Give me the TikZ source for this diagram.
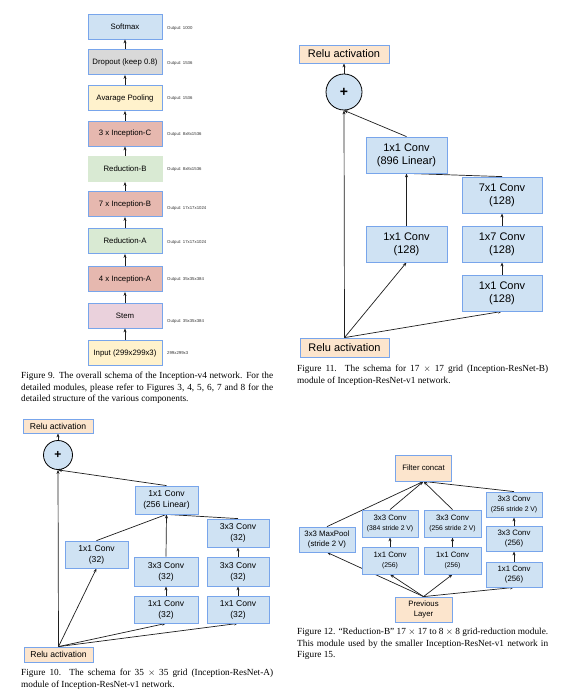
\documentclass[tikz,border=0pt]{standalone}
\usepackage{fontspec}
\setmainfont{Liberation Sans}
\newfontfamily\capfont[Ligatures=TeX]{Liberation Serif}
\usetikzlibrary{arrows.meta,backgrounds}
\definecolor{bblue}{RGB}{120,165,235}
\definecolor{fblue}{RGB}{207,226,243}
\definecolor{fgray}{RGB}{217,217,217}
\definecolor{fyel}{RGB}{255,242,204}
\definecolor{fred}{RGB}{230,184,175}
\definecolor{fgreen}{RGB}{217,234,211}
\definecolor{fpink}{RGB}{234,209,220}
\definecolor{forange}{RGB}{252,229,205}
\definecolor{lcol}{RGB}{30,30,30}
\tikzset{
  nbox/.style={draw=bblue, line width=0.8pt, inner sep=0pt, align=center, text=black},
  f9/.style={nbox, minimum width=74pt, minimum height=25pt, font=\fontsize{7.8}{9}\selectfont},
  outlab/.style={anchor=west, inner sep=0pt, font=\fontsize{4.3}{5}\selectfont, text=black!80},
  b11/.style={nbox, fill=fblue, minimum width=81pt, minimum height=36pt, font=\fontsize{11}{13}\selectfont},
  b10/.style={nbox, fill=fblue, minimum width=63pt, minimum height=28pt, font=\fontsize{8.6}{11}\selectfont},
  b12/.style={nbox, fill=fblue, minimum width=56pt, minimum height=26pt, font=\fontsize{7.8}{9.2}\selectfont},
  plusc/.style={circle, draw=black, line width=0.8pt, fill=fblue, inner sep=0pt, font=\bfseries},
  conn/.style={draw=lcol, line width=0.7pt},
  arr/.style={conn, -{Stealth[length=4pt,width=3pt]}},
  caption/.style={anchor=north west, inner sep=0pt, align=left, font=\capfont\fontsize{9.3}{11.6}\selectfont},
}
\newcommand{\sm}[1]{{\fontsize{6.8}{8}\selectfont #1}}
\begin{document}
\begin{tikzpicture}[x=1pt,y=-1pt]
\begin{pgfonlayer}{background}
\fill[white] (0,0) rectangle (565,700);
\end{pgfonlayer}
\useasboundingbox (0,0) rectangle (565,700);

% ---------------- Figure 9 ----------------
\node[f9, fill=fblue] (sm) at (125,26.5) {Softmax};
\node[f9, fill=fgray] (dr) at (125,62) {Dropout (keep 0.8)};
\node[f9, fill=fyel] (ap) at (125,98) {Avarage Pooling};
\node[f9, fill=fred] (ic) at (125,133.5) {3 x Inception-C};
\node[f9, fill=fgreen, draw=fgreen] (rb) at (125,169) {Reduction-B};
\node[f9, fill=fred] (ib) at (125,204) {7 x Inception-B};
\node[f9, fill=fgreen] (ra) at (125,241) {Reduction-A};
\node[f9, fill=fred] (ia) at (125,279) {4 x Inception-A};
\node[f9, fill=fpink] (st) at (125,315.5) {Stem};
\node[f9, fill=fyel] (in) at (125,353) {Input (299x299x3)};
\foreach \a/\b in {in/st, st/ia, ia/ra, ra/ib, ib/rb, rb/ic, ic/ap, ap/dr, dr/sm}
  \draw[arr] (\a) -- (\b);
\node[outlab] (o1) at (167,28) {Output: 1000};
\node[outlab] (o2) at (167,63) {Output: 1536};
\node[outlab] (o3) at (167,98) {Output: 1536};
\node[outlab] (o4) at (167,134) {Output: 8x8x1536};
\node[outlab] (o5) at (167,169) {Output: 8x8x1536};
\node[outlab] (o6) at (167,208) {Output: 17x17x1024};
\node[outlab] (o7) at (167,242) {Output: 17x17x1024};
\node[outlab] (o8) at (167,279) {Output: 35x35x384};
\node[outlab] (o9) at (167,321) {Output: 35x35x384};
\node[outlab] (o10) at (167,353) {299x299x3};
\node[caption] (cap9) at (21,372) {%
\makebox[252pt][s]{Figure 9. The overall schema of the Inception-v4 network. For the}\\
\makebox[252pt][s]{detailed modules, please refer to Figures 3, 4, 5, 6, 7 and 8 for the}\\
detailed structure of the various components.};

% ---------------- Figure 11 ----------------
\node[b11, fill=forange, minimum width=90pt, minimum height=18pt] (r11t) at (344,54) {Relu activation};
\node[plusc, minimum size=36pt, font=\bfseries\fontsize{14}{14}\selectfont] (p11) at (344,92) {+};
\node[b11] (c896) at (406.5,155) {1x1 Conv\\(896 Linear)};
\node[b11, minimum width=80pt] (c71) at (502,195) {7x1 Conv\\(128)};
\node[b11] (c11a) at (406.5,244) {1x1 Conv\\(128)};
\node[b11, minimum width=80pt] (c17) at (502,244) {1x7 Conv\\(128)};
\node[b11, minimum width=80pt] (c11b) at (502,293) {1x1 Conv\\(128)};
\node[b11, fill=forange, minimum width=89pt, minimum height=19pt] (r11b) at (344.5,347.5) {Relu activation};
\node[caption, font=\capfont\fontsize{9.3}{11.4}\selectfont] (cap11) at (297,365) {%
\makebox[251pt][s]{Figure 11. The schema for 17 $\times$ 17 grid (Inception-ResNet-B)}\\
module of Inception-ResNet-v1 network.};

% ---------------- Figure 10 ----------------
\node[b10, fill=forange, minimum width=70pt, minimum height=14pt] (r10t) at (58,426) {Relu activation};
\node[plusc, minimum size=29pt, font=\bfseries\fontsize{12}{12}\selectfont] (p10) at (58,455) {+};
\node[b10] (c256) at (166.5,500) {1x1 Conv\\(256 Linear)};
\node[b10, minimum width=62pt] (c33a) at (238,533) {3x3 Conv\\(32)};
\node[b10, minimum height=27pt] (c11l) at (96.5,554.5) {1x1 Conv\\(32)};
\node[b10, minimum width=64pt, minimum height=29pt] (c33m) at (166,571.5) {3x3 Conv\\(32)};
\node[b10, minimum width=62pt, minimum height=29pt] (c33b) at (238,571.5) {3x3 Conv\\(32)};
\node[b10, minimum width=64pt, minimum height=27pt] (c11m) at (166,609.5) {1x1 Conv\\(32)};
\node[b10, minimum width=62pt, minimum height=27pt] (c11r) at (238,609.5) {1x1 Conv\\(32)};
\node[b10, fill=forange, minimum width=69pt, minimum height=15pt] (r10b) at (58.5,654.5) {Relu activation};
\node[caption] (cap10) at (21,669) {%
\makebox[252pt][s]{Figure 10. The schema for 35 $\times$ 35 grid (Inception-ResNet-A)}\\
module of Inception-ResNet-v1 network.};

% ---------------- Figure 12 ----------------
\node[b12, fill=forange] (fc) at (423.5,468) {Filter concat};
\node[b12, minimum height=25pt] (mp) at (327,539.5) {3x3 MaxPool\\(stride 2 V)};
\node[b12, minimum height=27pt] (c384) at (390,523.5) {3x3 Conv\\\sm{(384 stride 2 V)}};
\node[b12, minimum width=57pt, minimum height=27pt] (c256s) at (452.5,523.5) {3x3 Conv\\\sm{(256 stride 2 V)}};
\node[b12, minimum height=25pt] (r3s) at (514,504.5) {3x3 Conv\\\sm{(256 stride 2 V)}};
\node[b12, minimum height=25pt] (r33) at (514,538.5) {3x3 Conv\\(256)};
\node[b12, minimum height=25pt] (r11) at (514,574.5) {1x1 Conv\\(256)};
\node[b12, minimum height=27pt] (l11) at (390,560.5) {1x1 Conv\\\sm{(256)}};
\node[b12, minimum width=57pt, minimum height=27pt] (m11) at (452.5,560.5) {1x1 Conv\\\sm{(256)}};
\node[b12, fill=forange, minimum width=57pt, minimum height=25pt] (prev) at (423.5,609.5) {Previous\\Layer};
\node[caption, font=\capfont\fontsize{9.3}{11.5}\selectfont] (cap12) at (297,628) {%
\makebox[251pt][s]{Figure 12. “Reduction-B” 17 $\times$ 17 to 8 $\times$ 8 grid-reduction module.}\\
\makebox[251pt][s]{This module used by the smaller Inception-ResNet-v1 network in}\\
Figure 15.};

% ---------------- connectors ----------------
\begin{pgfonlayer}{background}
% Fig 11
\draw[arr] (r11b.north) -- (p11.south);
\draw[arr] (r11b.north) -- (c11a.south);
\draw[arr] (r11b.north) -- (c11b.south);
\draw[arr] (c11b) -- (c17);
\draw[arr] (c17) -- (c71);
\draw[conn] (c71.north) -- (c896.south);
\draw[arr] (c11a.north) -- (c896.south);
\draw[arr] (c896.north) -- (p11.south);
\draw[arr] (p11.north) -- (r11t.south);
% Fig 10
\draw[arr] (r10b.north) -- (p10.south);
\draw[arr] (r10b.north) -- (c11l.south);
\draw[arr] (r10b.north) -- (c11m.south);
\draw[arr] (r10b.north) -- (c11r.south);
\draw[arr] (c11m) -- (c33m);
\draw[arr] (c11r) -- (c33b);
\draw[arr] (c33b) -- (c33a);
\draw[arr] (c33m.north) -- (c256.south);
\draw[conn] (c11l.north) -- (c256.south);
\draw[conn] (c33a.north) -- (c256.south);
\draw[arr] (c256.north) -- (p10.south);
\draw[arr] (p10.north) -- (r10t.south);
% Fig 12
\draw[arr] (prev.north) -- (mp.south);
\draw[arr] (prev.north) -- (l11.south);
\draw[arr] (prev.north) -- (m11.south);
\draw[arr] (prev.north) -- (r11.south);
\draw[arr] (l11) -- (c384);
\draw[arr] (m11) -- (c256s);
\draw[arr] (r11) -- (r33);
\draw[arr] (r33) -- (r3s);
\draw[arr] (mp.north) -- (fc.south);
\draw[arr] (c384.north) -- (fc.south);
\draw[arr] (c256s.north) -- (fc.south);
\draw[arr] (r3s.north) -- (fc.south);
\end{pgfonlayer}
\end{tikzpicture}
\end{document}
